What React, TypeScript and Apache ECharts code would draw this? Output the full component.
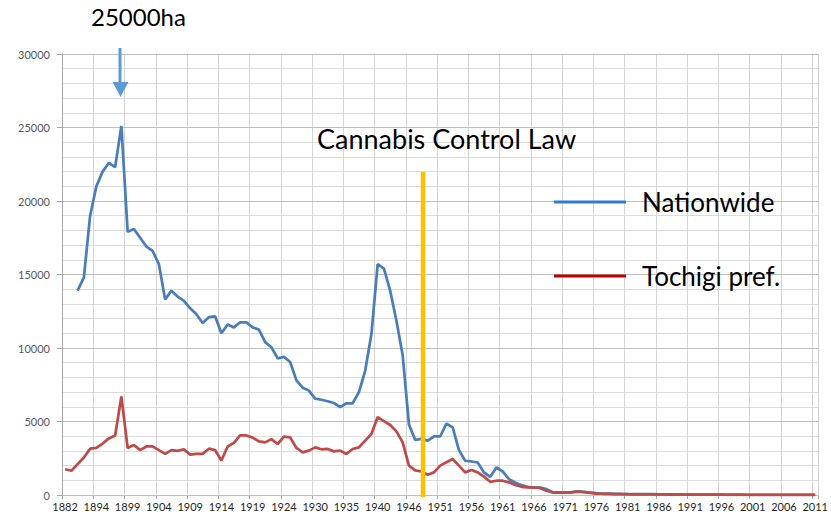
import React, { useEffect, useRef } from 'react';
import * as echarts from 'echarts';

const years: string[] = [
  '1882', '1890', '1891', '1892', '1893',
  '1894', '1895', '1896', '1897', '1898', '1899', '1900', '1901', '1902', '1903',
  '1904', '1905', '1906', '1907', '1908', '1909', '1910', '1911', '1912', '1913',
  '1914', '1915', '1916', '1917', '1918', '1919', '1920', '1921', '1922', '1923', '1924',
  '1926', '1927', '1928', '1929',
  '1930', '1931', '1932', '1933', '1934', '1935', '1936', '1937', '1938', '1939',
  '1940', '1941', '1942', '1943', '1944',
  '1946', '1947', '1948', '1949', '1950', '1951', '1952', '1953', '1954', '1955',
  '1956', '1957', '1958', '1959', '1960', '1961', '1962', '1963', '1964', '1965',
  '1966', '1967', '1968', '1969', '1970', '1971', '1972', '1973', '1974', '1975',
  '1976', '1977', '1978', '1979', '1980', '1981', '1982', '1983', '1984', '1985',
  '1986', '1987', '1988', '1989', '1990', '1991', '1992', '1993', '1994', '1995',
  '1996', '1997', '1998', '1999', '2000', '2001', '2002', '2003', '2004', '2005',
  '2006', '2007', '2008', '2009', '2010', '2011',
];

const nationwide: (number | null)[] = [
  null, null,
  13900, 14800, 19000, 21000, 22000, 22600, 22300, 25100,
  17900, 18100, 17500, 16900, 16600, 15700, 13300, 13900, 13500, 13200,
  12700, 12300, 11700, 12100, 12150, 11000, 11600, 11400, 11750, 11750,
  11400, 11250, 10400, 10050, 9300, 9400, 9050, 7800, 7300, 7100,
  6550, 6480, 6380, 6260, 5980, 6240, 6240, 7000, 8450, 10950,
  15700, 15400, 13900, 11850, 9500, 4800, 3750, 3820, 3700, 3980,
  3980, 4850, 4600, 3050, 2330, 2280, 2210, 1530, 1240, 1870,
  1600, 1080, 850, 670, 560, 510, 510, 400, 190, 180,
  180, 190, 250, 220, 170, 120, 100, 90, 80, 70,
  65, 60, 60, 55, 55, 50, 48, 45, 42, 40,
  36, 33, 30, 27, 25, 22, 20, 19, 18, 17,
  16, 15, 14, 13, 13, 12, 12, 11, 11, 10, 10,
];

const tochigi: number[] = [
  1750, 1650, 2100, 2550, 3150, 3200, 3500, 3850, 4050, 6700,
  3200, 3400, 3050, 3300, 3300, 3050, 2800, 3050, 3000, 3100,
  2750, 2800, 2800, 3150, 3050, 2350, 3300, 3550, 4050, 4050,
  3900, 3650, 3580, 3800, 3470, 3970, 3920, 3200, 2900, 3020,
  3240, 3110, 3130, 2970, 3020, 2790, 3130, 3240, 3700, 4150,
  5300, 5030, 4760, 4330, 3580, 2000, 1680, 1600, 1380, 1540,
  2000, 2230, 2450, 2000, 1540, 1700, 1540, 1250, 900, 970,
  970, 860, 680, 560, 520, 510, 460, 290, 170, 160,
  160, 170, 230, 200, 150, 100, 85, 75, 65, 58,
  52, 48, 45, 42, 40, 38, 36, 34, 32, 30,
  28, 26, 24, 22, 20, 18, 17, 16, 15, 14,
  13, 12, 12, 11, 11, 10, 10, 9, 9, 8, 8,
];

const seriesNames = ['Nationwide', 'Tochigi pref.'];
const peakLabel = '25000ha';
const lawLabel = 'Cannabis Control Law';

const FONT = 'Lato, "Open Sans", sans-serif';

export default function App() {
  const ref = useRef<HTMLDivElement>(null);

  useEffect(() => {
    document.body.style.margin = '0';
    if (!ref.current) return;
    const chart = echarts.init(ref.current, undefined, { renderer: 'svg' });
    const legendText = { fontSize: 26, color: '#000000', fontFamily: FONT, padding: [0, 0, 0, 11] };
    chart.setOption({
      animation: false,
      backgroundColor: '#ffffff',
      textStyle: { fontFamily: FONT },
      grid: { left: 62, right: 11, top: 54, bottom: 23, containLabel: false },
      legend: [
        {
          data: [{ name: seriesNames[0], itemStyle: { color: '#2E7BCF' } }],
          left: 549,
          top: 184,
          icon: 'rect',
          itemWidth: 72,
          itemHeight: 3,
          itemStyle: { color: '#2E7BCF' },
          textStyle: legendText,
          z: 20,
        },
        {
          data: [{ name: seriesNames[1], itemStyle: { color: '#C00000' } }],
          left: 549,
          top: 258,
          icon: 'rect',
          itemWidth: 72,
          itemHeight: 3,
          itemStyle: { color: '#C00000' },
          textStyle: legendText,
          z: 20,
        },
      ],
      xAxis: {
        type: 'category',
        data: years,
        boundaryGap: true,
        axisLine: { show: true, lineStyle: { color: '#A6A6A6', width: 1 } },
        axisTick: { show: true, interval: 4, length: 4, lineStyle: { color: '#A6A6A6' } },
        axisLabel: { interval: 4, fontSize: 11, color: '#262626', margin: 6, fontFamily: FONT },
        splitLine: { show: true, interval: 4, lineStyle: { color: '#D4D4D4', width: 1 } },
      },
      yAxis: [
        {
          type: 'value',
          min: 0,
          max: 30000,
          interval: 5000,
          z: 3,
          axisLine: { show: true, lineStyle: { color: '#A6A6A6', width: 1 } },
          axisTick: { show: true, length: 5, lineStyle: { color: '#A6A6A6' } },
          axisLabel: {
            fontSize: 11,
            color: '#595959',
            margin: 12,
            fontFamily: FONT,
            formatter: (v: number) => String(v),
          },
          splitLine: { show: true, lineStyle: { color: '#BFBFBF', width: 1 } },
        },
        {
          type: 'value',
          min: 0,
          max: 30000,
          interval: 1000,
          position: 'left',
          z: 1,
          axisLine: { show: false },
          axisTick: { show: false },
          axisLabel: { show: false },
          splitLine: { show: true, lineStyle: { color: '#DCDCDC', width: 1 } },
        },
      ],
      series: [
        {
          name: seriesNames[0],
          type: 'line',
          data: nationwide,
          yAxisIndex: 0,
          symbol: 'none',
          color: '#4A7EBB',
          lineStyle: { color: '#4A7EBB', width: 2.75 },
          connectNulls: false,
          z: 4,
        },
        {
          name: seriesNames[1],
          type: 'line',
          data: tochigi,
          yAxisIndex: 0,
          symbol: 'none',
          color: '#BE4B48',
          lineStyle: { color: '#BE4B48', width: 2.75 },
          z: 5,
        },
      ],
      graphic: [
        {
          type: 'text',
          left: 91,
          top: 4,
          z: 100,
          style: { text: peakLabel, fontSize: 24, fill: '#000000', fontFamily: FONT },
        },
        {
          type: 'line',
          z: 100,
          shape: { x1: 120, y1: 48, x2: 120, y2: 84 },
          style: { stroke: '#5B9BD5', lineWidth: 3 },
        },
        {
          type: 'polygon',
          z: 100,
          shape: { points: [[112.5, 82], [128.5, 82], [120.5, 97]] },
          style: { fill: '#5B9BD5' },
        },
        {
          type: 'text',
          left: 317,
          top: 125,
          z: 100,
          style: { text: lawLabel, fontSize: 27, fill: '#000000', fontFamily: FONT },
        },
        {
          type: 'line',
          z: 100,
          shape: { x1: 423, y1: 172, x2: 423, y2: 497 },
          style: { stroke: '#FFC000', lineWidth: 4.5 },
        },
      ],
    });
    return () => chart.dispose();
  }, []);

  return <div ref={ref} style={{ width: 831, height: 518, position: 'absolute', left: 0, top: 0 }} />;
}
